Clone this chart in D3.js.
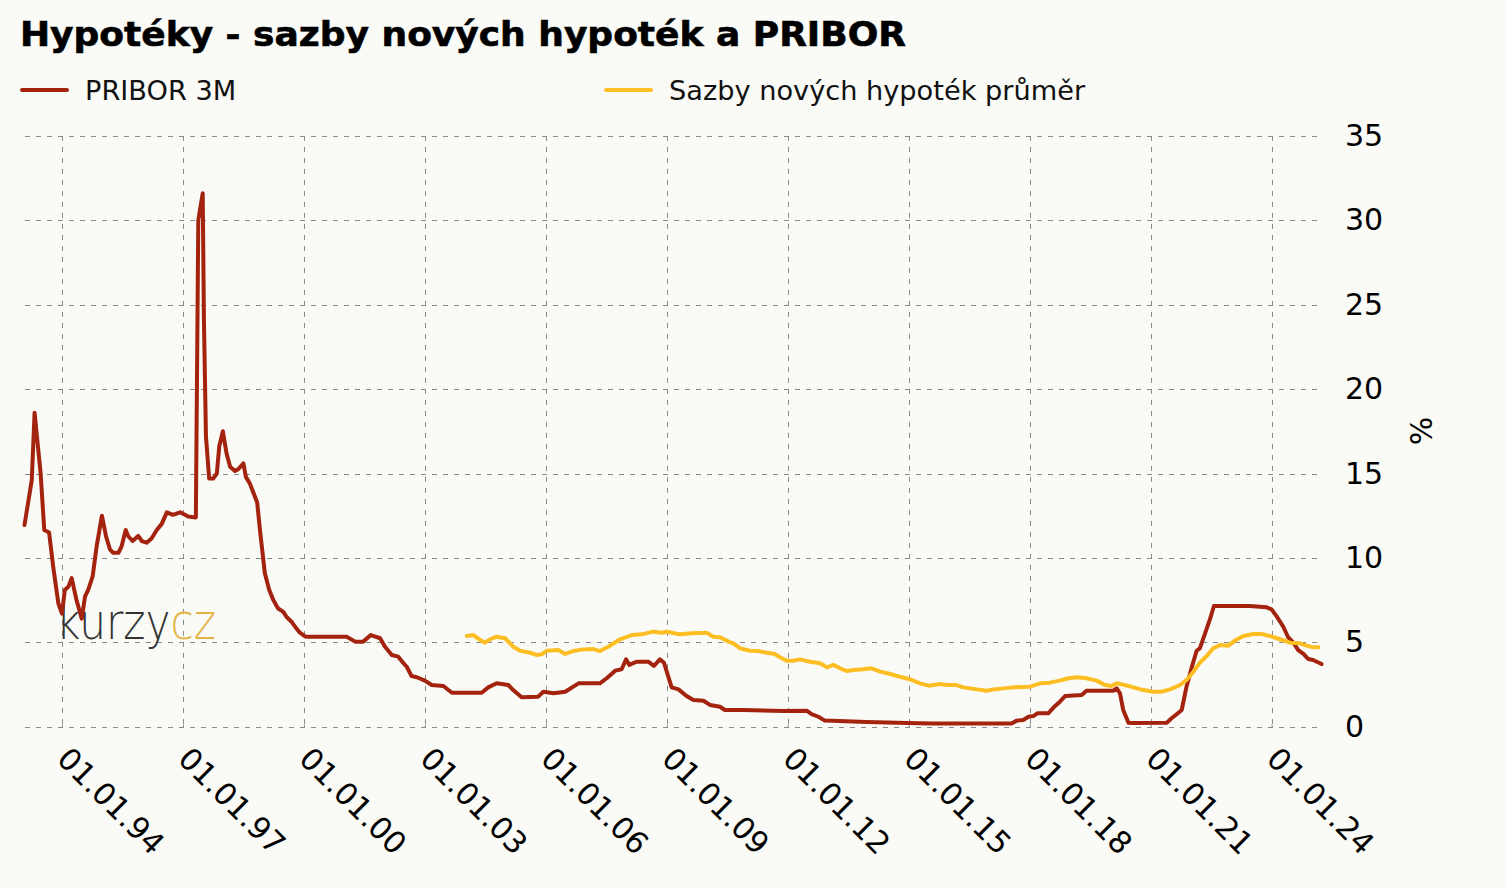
<!DOCTYPE html>
<html>
<head>
<meta charset="utf-8">
<script src="https://cdn.jsdelivr.net/npm/d3@7/dist/d3.min.js"></script>
<style>
  html, body { margin: 0; padding: 0; background: #fafaf6; }
  svg { display: block; }
  text { font-family: "DejaVu Sans", Verdana, sans-serif; }
</style>
</head>
<body>
<svg id="chart" width="1506" height="888"></svg>
<script>
// ---- Data (decimal year, percent) ----
const priborYears = [
  1993.07, 1993.25, 1993.32, 1993.47, 1993.56, 1993.68, 1993.78, 1993.91, 1994.00, 1994.07,
  1994.16, 1994.24, 1994.36, 1994.49, 1994.57, 1994.65, 1994.76, 1994.86, 1994.99, 1995.09,
  1995.19, 1995.27, 1995.40, 1995.48, 1995.58, 1995.64, 1995.75, 1995.89, 1995.98, 1996.10,
  1996.22, 1996.35, 1996.47, 1996.60, 1996.75, 1996.93, 1997.13, 1997.32, 1997.38, 1997.49,
  1997.52, 1997.57, 1997.65, 1997.75, 1997.84, 1997.90, 1997.99, 1998.08, 1998.17, 1998.29,
  1998.37, 1998.50, 1998.56, 1998.66, 1998.74, 1998.84, 1998.91, 1999.03, 1999.14, 1999.24,
  1999.36, 1999.49, 1999.57, 1999.70, 1999.82, 1999.90, 2000.03, 2000.11, 2001.06, 2001.27,
  2001.47, 2001.66, 2001.89, 2002.01, 2002.18, 2002.34, 2002.47, 2002.55, 2002.67, 2002.80,
  2003.00, 2003.17, 2003.46, 2003.67, 2004.41, 2004.57, 2004.78, 2005.07, 2005.19, 2005.40,
  2005.81, 2005.94, 2006.19, 2006.48, 2006.81, 2007.34, 2007.51, 2007.72, 2007.88, 2007.99,
  2008.07, 2008.25, 2008.54, 2008.68, 2008.83, 2008.93, 2009.12, 2009.29, 2009.49, 2009.66,
  2009.91, 2010.07, 2010.32, 2010.44, 2010.90, 2011.89, 2012.47, 2012.59, 2012.76, 2012.92,
  2013.96, 2014.95, 2015.61, 2017.55, 2017.68, 2017.84, 2017.97, 2018.09, 2018.19, 2018.46,
  2018.63, 2018.75, 2018.88, 2019.29, 2019.41, 2020.07, 2020.16, 2020.24, 2020.32, 2020.45,
  2020.57, 2021.40, 2021.52, 2021.69, 2021.77, 2021.89, 2022.02, 2022.14, 2022.22, 2022.35,
  2022.47, 2022.57, 2023.46, 2023.88, 2024.00, 2024.13, 2024.29, 2024.41, 2024.54, 2024.66,
  2024.79, 2024.91, 2025.03, 2025.12, 2025.24
];
const priborValues = [
  11.95, 14.6, 18.6, 15.0, 11.65, 11.5, 9.5, 7.3, 6.7, 8.1,
  8.3, 8.8, 7.5, 6.4, 7.7, 8.1, 8.9, 10.7, 12.5, 11.3,
  10.5, 10.3, 10.3, 10.7, 11.65, 11.3, 11.0, 11.3, 11.0, 10.9,
  11.15, 11.65, 12.0, 12.7, 12.55, 12.7, 12.45, 12.4, 30.0, 31.6,
  24.1, 17.2, 14.7, 14.7, 15.0, 16.6, 17.5, 16.2, 15.4, 15.15,
  15.25, 15.6, 14.8, 14.4, 13.9, 13.3, 11.65, 9.1, 8.1, 7.5,
  7.0, 6.8, 6.5, 6.2, 5.8, 5.57, 5.35, 5.33, 5.33, 5.04,
  5.04, 5.43, 5.24, 4.74, 4.25, 4.15, 3.76, 3.55, 3.0, 2.93,
  2.73, 2.47, 2.41, 2.01, 2.01, 2.33, 2.57, 2.47, 2.17, 1.74,
  1.78, 2.07, 1.98, 2.07, 2.57, 2.57, 2.87, 3.32, 3.4, 3.99,
  3.66, 3.85, 3.85, 3.6, 3.99, 3.79, 2.33, 2.21, 1.82, 1.58,
  1.54, 1.29, 1.18, 0.99, 0.99, 0.93, 0.95, 0.75, 0.59, 0.36,
  0.28, 0.22, 0.19, 0.19, 0.36, 0.4, 0.59, 0.63, 0.79, 0.79,
  1.23, 1.48, 1.82, 1.88, 2.13, 2.13, 2.27, 1.98, 0.99, 0.24,
  0.22, 0.24, 0.5, 0.83, 0.99, 2.37, 3.52, 4.5, 4.64, 5.53,
  6.36, 7.15, 7.15, 7.07, 6.95, 6.52, 5.92, 5.3, 4.98, 4.54,
  4.31, 4.01, 3.95, 3.85, 3.71
];
const mortgageYears = [
  2004.04, 2004.20, 2004.37, 2004.49, 2004.62, 2004.78, 2004.99, 2005.19, 2005.36, 2005.61,
  2005.77, 2005.90, 2006.02, 2006.31, 2006.48, 2006.68, 2006.93, 2007.18, 2007.34, 2007.55,
  2007.84, 2008.13, 2008.38, 2008.67, 2008.87, 2009.00, 2009.33, 2009.62, 2009.99, 2010.15,
  2010.32, 2010.53, 2010.65, 2010.82, 2011.06, 2011.27, 2011.48, 2011.68, 2011.81, 2011.97,
  2012.14, 2012.30, 2012.55, 2012.80, 2012.97, 2013.13, 2013.30, 2013.46, 2013.63, 2013.87,
  2014.08, 2014.29, 2014.54, 2014.78, 2015.03, 2015.28, 2015.49, 2015.78, 2015.94, 2016.19,
  2016.35, 2016.52, 2016.69, 2016.93, 2017.10, 2017.35, 2017.59, 2018.01, 2018.26, 2018.50,
  2018.75, 2018.96, 2019.17, 2019.41, 2019.66, 2019.87, 2020.03, 2020.16, 2020.36, 2020.57,
  2020.82, 2021.07, 2021.27, 2021.48, 2021.73, 2021.89, 2022.06, 2022.22, 2022.39, 2022.55,
  2022.72, 2022.93, 2023.09, 2023.30, 2023.55, 2023.75, 2023.96, 2024.21, 2024.46, 2024.70,
  2024.87, 2025.03, 2025.16
];
const mortgageValues = [
  5.37, 5.43, 5.14, 4.98, 5.18, 5.33, 5.24, 4.74, 4.5, 4.38,
  4.25, 4.29, 4.5, 4.54, 4.31, 4.48, 4.58, 4.6, 4.48, 4.74,
  5.18, 5.43, 5.47, 5.63, 5.57, 5.63, 5.47, 5.53, 5.57, 5.33,
  5.3, 5.04, 4.94, 4.64, 4.5, 4.48, 4.38, 4.31, 4.11, 3.91,
  3.91, 3.99, 3.85, 3.76, 3.52, 3.66, 3.46, 3.3, 3.36, 3.4,
  3.46, 3.26, 3.12, 2.96, 2.81, 2.57, 2.43, 2.53, 2.47, 2.47,
  2.33, 2.27, 2.21, 2.13, 2.21, 2.27, 2.33, 2.37, 2.57, 2.61,
  2.73, 2.87, 2.93, 2.87, 2.73, 2.47, 2.41, 2.57, 2.47, 2.33,
  2.17, 2.07, 2.07, 2.21, 2.47, 2.77, 3.26, 3.79, 4.19, 4.64,
  4.84, 4.8, 5.1, 5.37, 5.49, 5.49, 5.37, 5.18, 4.98, 4.94,
  4.8, 4.7, 4.7
];
const xTickYears = [1994, 1997, 2000, 2003, 2006, 2009, 2012, 2015, 2018, 2021, 2024];
const yTickValues = [0, 5, 10, 15, 20, 25, 30, 35];
const seriesNames = ["PRIBOR 3M", "Sazby nových hypoték průměr"];
const seriesColors = ["#a3230f", "#fcbe23"];
const titleText = "Hypotéky - sazby nových hypoték a PRIBOR";

// ---- Layout ----
const svg = d3.select("#chart");
const plotLeft = 25, plotRight = 1321, plotTop = 135.9, plotBottom = 726.7;

const x = d3.scaleLinear().domain([1994, 2024]).range([62, 1271.6]);
const y = d3.scaleLinear().domain([0, 35]).range([plotBottom, plotTop]);

svg.append("rect").attr("width", 1506).attr("height", 888).attr("fill", "#fafaf6");

// Title
svg.append("text")
  .attr("x", 20).attr("y", 46)
  .attr("font-size", 33).attr("font-weight", "bold").attr("fill", "#000")
  .attr("stroke", "#000").attr("stroke-width", 0.6)
  .attr("textLength", 886).attr("lengthAdjust", "spacingAndGlyphs")
  .text(titleText);

// Legend
const legendX = [22, 606];
seriesNames.forEach((name, i) => {
  const g = svg.append("g").attr("transform", `translate(${legendX[i]},90)`);
  g.append("line").attr("x1", 0).attr("x2", 45).attr("y1", 0).attr("y2", 0)
    .attr("stroke", seriesColors[i]).attr("stroke-width", 4).attr("stroke-linecap", "round");
  g.append("text").attr("x", 63).attr("y", 0).attr("dy", "0.35em")
    .attr("font-size", 27.2).attr("fill", "#111").text(name);
});

// Grid
const grid = svg.append("g").attr("stroke", "#8a8a8a").attr("stroke-width", 1).attr("stroke-dasharray", "5,6");
grid.selectAll("line.h").data(yTickValues).join("line")
  .attr("x1", plotLeft).attr("x2", plotRight)
  .attr("y1", d => Math.round(y(d)) + 0.5).attr("y2", d => Math.round(y(d)) + 0.5);
grid.selectAll("line.v").data(xTickYears).join("line")
  .attr("x1", d => Math.round(x(d)) + 0.5).attr("x2", d => Math.round(x(d)) + 0.5)
  .attr("y1", plotTop).attr("y2", plotBottom);

// X axis
const xAxis = d3.axisBottom(x).tickValues(xTickYears).tickSize(-3)
  .tickFormat(d => "01.01." + String(d % 100).padStart(2, "0"));
const gx = svg.append("g").attr("transform", `translate(0,${Math.round(plotBottom) + 0.5})`).call(xAxis);
gx.select(".domain").remove();
gx.selectAll(".tick line").attr("stroke", "#8a8a8a");
gx.selectAll(".tick text")
  .attr("font-family", "DejaVu Sans, Verdana, sans-serif")
  .attr("font-size", 30.5).attr("fill", "#000")
  .attr("text-anchor", "start")
  .attr("dy", null).attr("y", null)
  .attr("transform", "translate(-7,33) rotate(45)");

// Y axis
const yAxis = d3.axisRight(y).tickValues(yTickValues).tickSize(0).tickPadding(24);
const gy = svg.append("g").attr("transform", `translate(${plotRight},0)`).call(yAxis);
gy.select(".domain").remove();
gy.selectAll(".tick text")
  .attr("font-family", "DejaVu Sans, Verdana, sans-serif")
  .attr("font-size", 30).attr("fill", "#000");

svg.append("text")
  .attr("transform", `translate(1432,431) rotate(-90)`)
  .attr("text-anchor", "middle").attr("font-size", 30).attr("fill", "#000")
  .text("%");

// Watermark
const wm = svg.append("text").attr("x", 56).attr("y", 639)
  .attr("font-family", "Lato, 'Noto Sans', sans-serif").attr("font-weight", 300)
  .attr("font-size", 50).attr("textLength", 160).attr("lengthAdjust", "spacingAndGlyphs");
wm.append("tspan").attr("fill", "#333").text("kurzy");
wm.append("tspan").attr("fill", "#e3b444").text("cz");

// Lines
const line = d3.line().x(d => x(d[0])).y(d => y(d[1])).curve(d3.curveLinear);
const priborData = priborYears.map((t, i) => [t, priborValues[i]]);
const mortgageData = mortgageYears.map((t, i) => [t, mortgageValues[i]]);
[priborData, mortgageData].forEach((data, i) => {
  svg.append("path").datum(data)
    .attr("fill", "none").attr("stroke", seriesColors[i])
    .attr("stroke-width", 4).attr("stroke-linejoin", "round").attr("stroke-linecap", "round")
    .attr("d", line);
});
</script>
</body>
</html>
